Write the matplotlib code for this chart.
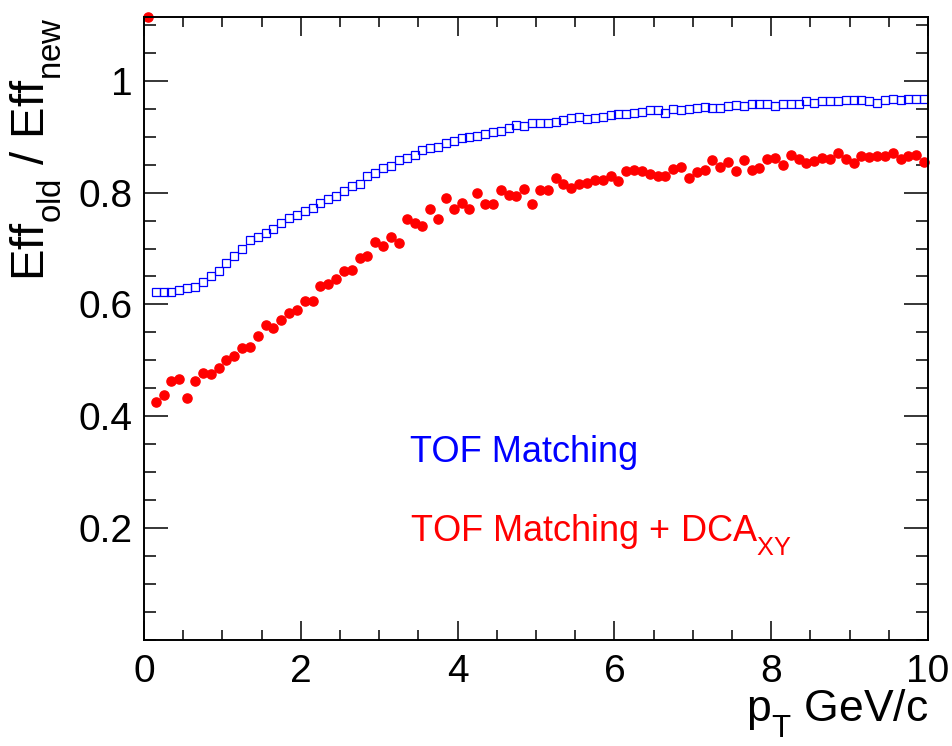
import numpy as np
import matplotlib
matplotlib.use('Agg')
import matplotlib.pyplot as plt
from matplotlib.ticker import MultipleLocator, FixedLocator, FuncFormatter

plt.rcParams['font.family'] = ['Liberation Sans', 'DejaVu Sans']
plt.rcParams['mathtext.default'] = 'regular'
# ROOT puts subscripts a bit lower than mathtext does
try:
    import matplotlib._mathtext as _mt
    _mt.FontConstantsBase.sub1 = 0.7
except Exception:
    pass

# bin centres, 0.1 GeV/c wide bins from 0 to 10
pt_blue = np.arange(1, 100) * 0.1 + 0.05
pt_red = np.arange(0, 100) * 0.1 + 0.05

# TOF matching only (first bin not shown)
eff_tof = [0.623, 0.623, 0.623, 0.625, 0.630, 0.632, 0.640, 0.651, 0.660, 0.674,
           0.687, 0.699, 0.715, 0.720, 0.728, 0.735, 0.745, 0.754, 0.760, 0.767,
           0.773, 0.781, 0.788, 0.794, 0.803, 0.811, 0.816, 0.829, 0.835, 0.844,
           0.848, 0.858, 0.862, 0.868, 0.876, 0.880, 0.882, 0.888, 0.893, 0.897,
           0.899, 0.902, 0.905, 0.908, 0.911, 0.915, 0.920, 0.919, 0.924, 0.925,
           0.925, 0.927, 0.929, 0.933, 0.935, 0.932, 0.933, 0.936, 0.939, 0.940,
           0.941, 0.942, 0.945, 0.947, 0.947, 0.942, 0.949, 0.948, 0.949, 0.951,
           0.953, 0.951, 0.951, 0.954, 0.956, 0.954, 0.958, 0.958, 0.958, 0.955,
           0.959, 0.959, 0.959, 0.963, 0.961, 0.963, 0.963, 0.963, 0.966, 0.966,
           0.966, 0.963, 0.961, 0.965, 0.967, 0.965, 0.967, 0.967, 0.967]

# TOF matching + DCA_XY
eff_dca = [1.114, 0.426, 0.438, 0.463, 0.467, 0.432, 0.463, 0.478, 0.475, 0.487,
           0.500, 0.507, 0.522, 0.524, 0.544, 0.564, 0.558, 0.572, 0.584, 0.590,
           0.606, 0.606, 0.633, 0.636, 0.645, 0.660, 0.662, 0.683, 0.686, 0.711,
           0.705, 0.721, 0.710, 0.752, 0.745, 0.741, 0.770, 0.752, 0.790, 0.771,
           0.781, 0.770, 0.800, 0.780, 0.780, 0.805, 0.795, 0.794, 0.807, 0.780,
           0.804, 0.804, 0.827, 0.816, 0.808, 0.816, 0.818, 0.822, 0.822, 0.829,
           0.820, 0.838, 0.841, 0.838, 0.833, 0.829, 0.829, 0.843, 0.845, 0.826,
           0.836, 0.840, 0.858, 0.846, 0.855, 0.838, 0.858, 0.840, 0.844, 0.860,
           0.862, 0.850, 0.868, 0.860, 0.853, 0.857, 0.862, 0.860, 0.870, 0.860,
           0.853, 0.865, 0.864, 0.866, 0.865, 0.871, 0.860, 0.866, 0.868, 0.854]

y_ticks = [0.2, 0.4, 0.6, 0.8, 1.0]

fig = plt.figure(figsize=(9.52, 7.46), dpi=100)
ax = fig.add_axes([0.1513, 0.1421, 0.8235, 0.8351])

ax.plot(pt_blue, eff_tof, ls='none', marker='s', ms=6.4, mfc='none', mec='blue', mew=0.9)
ax.plot(pt_red, eff_dca, ls='none', marker='o', ms=6.6, color='red', mec='red', clip_on=False)

ax.set_xlim(0, 10)
ax.set_ylim(0, 1.114)
ax.xaxis.set_major_locator(MultipleLocator(2))
ax.xaxis.set_minor_locator(MultipleLocator(0.5))
ax.yaxis.set_major_locator(FixedLocator(y_ticks))
ax.yaxis.set_minor_locator(MultipleLocator(0.05))
ax.yaxis.set_major_formatter(FuncFormatter(lambda v, p: '%g' % v))

ax.tick_params(which='both', direction='in', top=True, right=True, width=1.1, colors='black')
ax.tick_params(axis='x', which='major', length=14, labelsize=28, pad=10)
ax.tick_params(axis='x', which='minor', length=7)
ax.tick_params(axis='y', which='major', length=17, labelsize=28, pad=8)
ax.tick_params(axis='y', which='minor', length=8.5)
for s in ax.spines.values():
    s.set_linewidth(1.4)

ax.set_xlabel(r'p$_{T}$ GeV/c', fontsize=32, loc='right')
ax.xaxis.set_label_coords(1.0, -0.075)
ax.set_ylabel(r'Eff$_{old}$ / Eff$_{new}$', fontsize=34, loc='top')
ax.yaxis.set_label_coords(-0.102, 1.0)

ax.text(3.39, 0.318, 'TOF Matching', color='blue', fontsize=26, va='baseline')
ax.text(3.39, 0.177, r'TOF Matching + DCA$_{XY}$', color='red', fontsize=26, va='baseline')

fig.savefig('out.png', dpi=100)
